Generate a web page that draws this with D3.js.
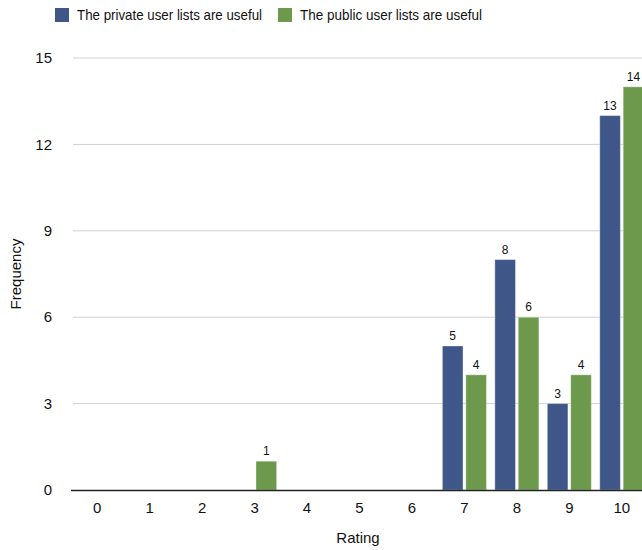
<!DOCTYPE html>
<html>
<head>
<meta charset="utf-8">
<script src="https://cdn.jsdelivr.net/npm/d3@7"></script>
<style>
  html, body { margin: 0; padding: 0; background: #fff; }
  svg { display: block; font-family: "Liberation Sans", Arial, Helvetica, sans-serif; }
</style>
</head>
<body>
<svg id="chart" width="642" height="550"></svg>
<script>
// Ratings 0–10 and how often each was given
const ratings = ["0", "1", "2", "3", "4", "5", "6", "7", "8", "9", "10"];
const privateUseful = [0, 0, 0, 0, 0, 0, 0, 5, 8, 3, 13];
const publicUseful  = [0, 0, 0, 1, 0, 0, 0, 4, 6, 4, 14];
const seriesNames = ["The private user lists are useful", "The public user lists are useful"];
const seriesColors = ["#3f5688", "#6d994c"];
const yTicks = [0, 3, 6, 9, 12, 15];

const svg = d3.select("#chart");
const margin = { left: 71, right: -6, top: 58, bottom: 60 };
const width = 642, height = 550;

const x = d3.scaleBand()
  .domain(ratings)
  .range([margin.left, width - margin.right])
  .paddingInner(0).paddingOuter(0);

const y = d3.scaleLinear()
  .domain([0, 15])
  .range([height - margin.bottom, margin.top]);

const xSub = d3.scaleBand()
  .domain([0, 1])
  .range([0, x.bandwidth()])
  .paddingInner(0.12)
  .paddingOuter(0.18);

// Gridlines
svg.append("g")
  .selectAll("line")
  .data(yTicks.filter(d => d > 0))
  .join("line")
  .attr("x1", margin.left + 2)
  .attr("x2", width)
  .attr("y1", d => y(d))
  .attr("y2", d => y(d))
  .attr("stroke", "#d0d0d0")
  .attr("stroke-width", 1);

// Y axis labels
svg.append("g")
  .selectAll("text")
  .data(yTicks)
  .join("text")
  .attr("x", 52)
  .attr("y", d => y(d))
  .attr("dy", "0.35em")
  .attr("text-anchor", "end")
  .attr("font-size", 15)
  .attr("fill", "#111")
  .text(d => d);

// Bars
const rows = ratings.map((r, i) => ({ r, vals: [privateUseful[i], publicUseful[i]] }));
const groups = svg.append("g")
  .selectAll("g")
  .data(rows)
  .join("g")
  .attr("transform", d => `translate(${x(d.r)},0)`);

groups.selectAll("rect")
  .data(d => d.vals.map((v, k) => ({ v, k })).filter(e => e.v > 0))
  .join("rect")
  .attr("x", e => xSub(e.k))
  .attr("width", xSub.bandwidth())
  .attr("y", e => y(e.v))
  .attr("height", e => y(0) - y(e.v))
  .attr("fill", e => seriesColors[e.k])
  .attr("stroke", "rgba(255,255,255,0.35)")
  .attr("stroke-width", 1);

groups.selectAll("text")
  .data(d => d.vals.map((v, k) => ({ v, k })).filter(e => e.v > 0))
  .join("text")
  .attr("x", e => xSub(e.k) + xSub.bandwidth() / 2)
  .attr("y", e => y(e.v) - 6)
  .attr("text-anchor", "middle")
  .attr("font-size", 12)
  .attr("fill", "#111")
  .text(e => e.v);

// X axis line and labels
svg.append("line")
  .attr("x1", margin.left)
  .attr("x2", width)
  .attr("y1", y(0) + 0.5)
  .attr("y2", y(0) + 0.5)
  .attr("stroke", "#222")
  .attr("stroke-width", 1.5);

svg.append("g")
  .selectAll("text")
  .data(ratings)
  .join("text")
  .attr("x", d => x(d) + x.bandwidth() / 2)
  .attr("y", y(0) + 23)
  .attr("text-anchor", "middle")
  .attr("font-size", 15)
  .attr("fill", "#111")
  .text(d => d);

// Axis titles
svg.append("text")
  .attr("x", 358)
  .attr("y", 543)
  .attr("text-anchor", "middle")
  .attr("font-size", 15)
  .attr("fill", "#111")
  .text("Rating");

svg.append("text")
  .attr("transform", `translate(21,${(y(0) + y(15)) / 2}) rotate(-90)`)
  .attr("text-anchor", "middle")
  .attr("font-size", 15)
  .attr("fill", "#111")
  .text("Frequency");

// Legend
const legendX = [55, 278];
const legendTextWidth = [185, 182];
const legend = svg.append("g")
  .selectAll("g")
  .data(seriesNames)
  .join("g")
  .attr("transform", (d, i) => `translate(${legendX[i]},8)`);

legend.append("rect")
  .attr("width", 14)
  .attr("height", 14)
  .attr("fill", (d, i) => seriesColors[i]);

legend.append("text")
  .attr("x", 22)
  .attr("y", 7)
  .attr("dy", "0.35em")
  .attr("font-size", 15)
  .attr("fill", "#111")
  .attr("textLength", (d, i) => legendTextWidth[i])
  .attr("lengthAdjust", "spacingAndGlyphs")
  .text(d => d);
</script>
</body>
</html>
